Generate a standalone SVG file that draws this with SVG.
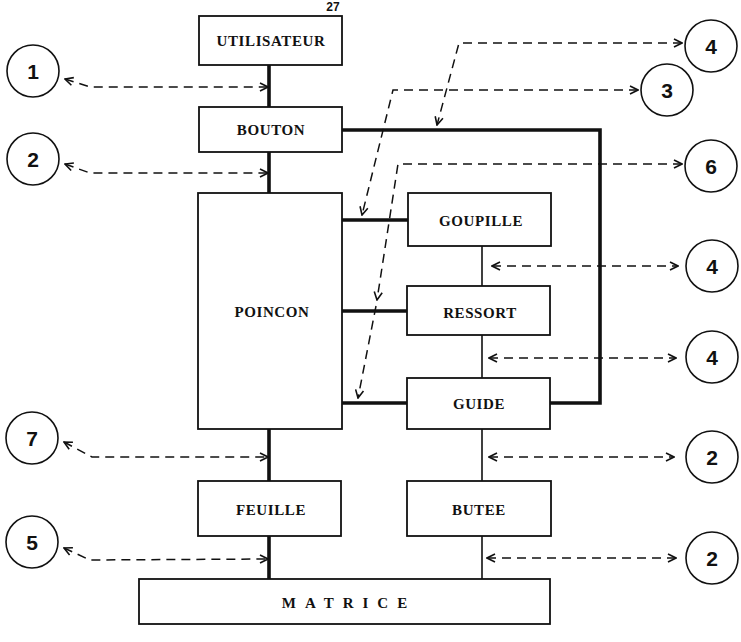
<svg xmlns="http://www.w3.org/2000/svg" width="741" height="642" viewBox="0 0 741 642">
<style>
  .box{fill:#fff;stroke:#111;stroke-width:1.8}
  .lbl{font-family:"Liberation Serif",serif;font-weight:bold;font-size:15px;letter-spacing:0.6px;fill:#111;text-anchor:middle}
  .num{font-family:"Liberation Sans",sans-serif;font-weight:bold;font-size:21px;fill:#111;text-anchor:middle}
  .circ{fill:#fff;stroke:#111;stroke-width:1.6}
  .thick{fill:none;stroke:#111;stroke-width:3.6}
  .thin{fill:none;stroke:#111;stroke-width:1.6}
  .dash{fill:none;stroke:#111;stroke-width:1.5;stroke-dasharray:9 6;marker-end:url(#ah)}
  .dash2{fill:none;stroke:#111;stroke-width:1.5;stroke-dasharray:9 6;marker-end:url(#ah);marker-start:url(#ah)}
</style>
<defs>
  <marker id="ah" viewBox="0 0 10 10" refX="9" refY="5" markerWidth="10" markerHeight="10" markerUnits="userSpaceOnUse" orient="auto-start-reverse">
    <path d="M1,1 L9,5 L1,9" fill="none" stroke="#111" stroke-width="1.6" stroke-dasharray="none"/>
  </marker>
</defs>
<rect width="741" height="642" fill="#fff"/>
<text x="333" y="11" font-family="Liberation Sans,sans-serif" font-size="12" font-weight="bold" text-anchor="middle" fill="#111">27</text>

<g id="connectors">
  <path class="thick" d="M269,65 V107 M269,152 V193 M269,429 V481 M269,536 V579"/>
  <path class="thick" d="M342,130 H600 V403 H550"/>
  <path class="thick" d="M342,220 H408 M342,311 H407 M342,403 H407"/>
  <path class="thin" d="M482,246 V286 M482,335 V378 M482,429 V481 M482,536 V579"/>
  <path class="dash2" d="M65,79 L90,87 L268,87"/>
  <path class="dash2" d="M65,164 L90,173 L268,173"/>
  <path class="dash2" d="M64,442 L92,457 L268,457"/>
  <path class="dash2" d="M64,548 L90,560 L268,559"/>
  <path class="dash2" d="M682,43 H459 L437,125"/>
  <path class="dash2" d="M638,90 H393 L362,215"/>
  <path class="dash2" d="M682,164 H398 L377,300"/>
  <path class="dash" d="M376,306 L358,398"/>
  <path class="dash2" d="M492,266 H678"/>
  <path class="dash2" d="M489,358 H676"/>
  <path class="dash2" d="M489,457 H674"/>
  <path class="dash2" d="M487,558 H676"/>
</g>

<g id="utilisateur"><rect class="box" x="199" y="16" width="143" height="49"/><text class="lbl" x="271" y="46">UTILISATEUR</text></g>
<g id="bouton"><rect class="box" x="199" y="107" width="143" height="45"/><text class="lbl" x="271" y="135">BOUTON</text></g>
<g id="poincon"><rect class="box" x="198" y="193" width="144" height="236"/><text class="lbl" x="272" y="317">POINCON</text></g>
<g id="goupille"><rect class="box" x="408" y="193" width="143" height="53"/><text class="lbl" x="481" y="226">GOUPILLE</text></g>
<g id="ressort"><rect class="box" x="407" y="286" width="143" height="49"/><text class="lbl" x="480" y="318">RESSORT</text></g>
<g id="guide"><rect class="box" x="407" y="378" width="143" height="51"/><text class="lbl" x="479" y="409">GUIDE</text></g>
<g id="feuille"><rect class="box" x="198" y="481" width="143" height="55"/><text class="lbl" x="271" y="515">FEUILLE</text></g>
<g id="butee"><rect class="box" x="407" y="481" width="144" height="55"/><text class="lbl" x="479" y="515">BUTEE</text></g>
<g id="matrice"><rect class="box" x="139" y="579" width="411" height="45"/><text class="lbl" x="349" y="608" style="letter-spacing:9px">MATRICE</text></g>

<g id="c1"><circle class="circ" cx="33" cy="71" r="26"/><text class="num" x="33" y="79">1</text></g>
<g id="c2a"><circle class="circ" cx="33" cy="159" r="26"/><text class="num" x="33" y="167">2</text></g>
<g id="c7"><circle class="circ" cx="32" cy="438" r="26"/><text class="num" x="32" y="446">7</text></g>
<g id="c5"><circle class="circ" cx="32" cy="542" r="26"/><text class="num" x="32" y="550">5</text></g>
<g id="c4a"><circle class="circ" cx="711" cy="46" r="26"/><text class="num" x="711" y="54">4</text></g>
<g id="c3"><circle class="circ" cx="667" cy="90" r="26"/><text class="num" x="667" y="98">3</text></g>
<g id="c6"><circle class="circ" cx="711" cy="166" r="26"/><text class="num" x="711" y="174">6</text></g>
<g id="c4b"><circle class="circ" cx="712" cy="266" r="26"/><text class="num" x="712" y="274">4</text></g>
<g id="c4c"><circle class="circ" cx="712" cy="357" r="26"/><text class="num" x="712" y="365">4</text></g>
<g id="c2b"><circle class="circ" cx="712" cy="457" r="26"/><text class="num" x="712" y="465">2</text></g>
<g id="c2c"><circle class="circ" cx="712" cy="558" r="26"/><text class="num" x="712" y="566">2</text></g>
</svg>
